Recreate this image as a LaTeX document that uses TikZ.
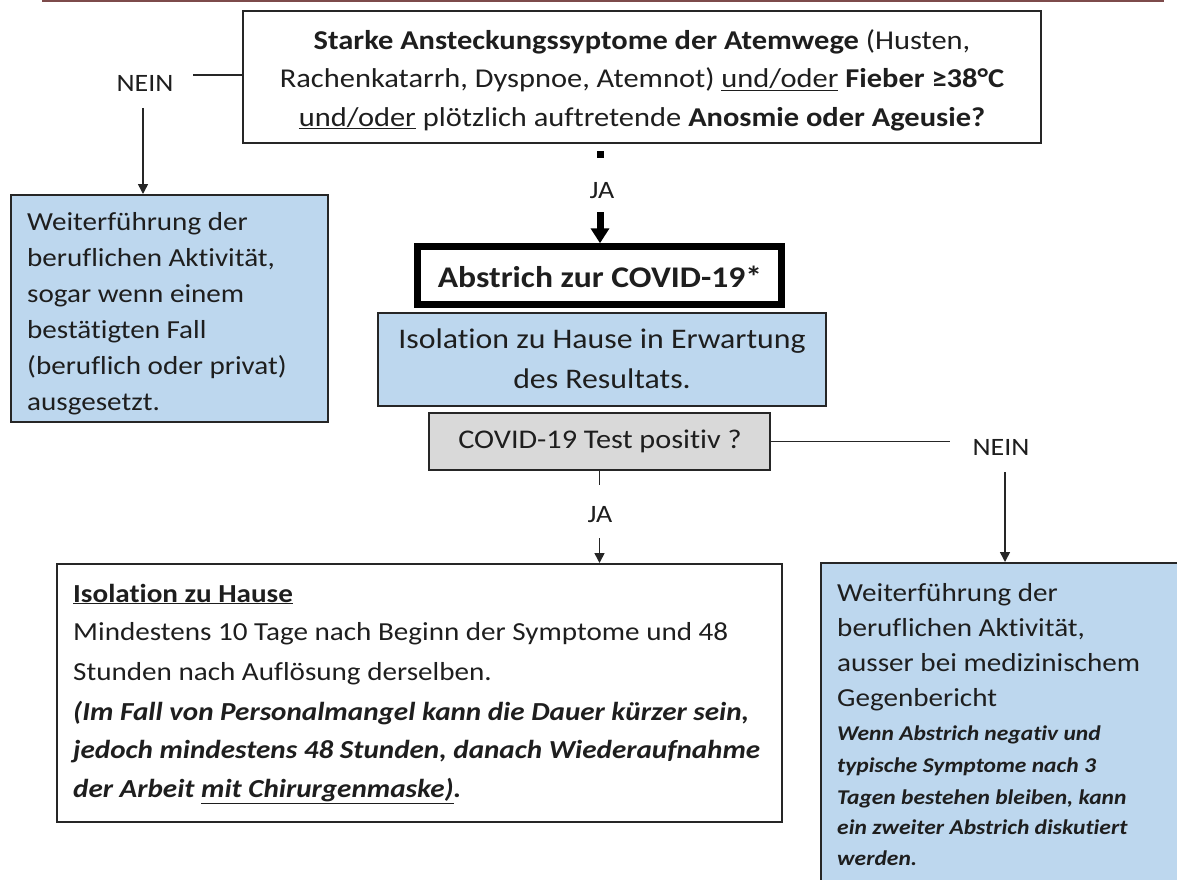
\documentclass[tikz,border=0pt]{standalone}
\usepackage{fontspec}
\setmainfont{Carlito}[FakeStretch=1.12, Ligatures=NoCommon]
\usetikzlibrary{arrows.meta}
\definecolor{boxblue}{HTML}{BDD7EE}
\definecolor{boxgray}{HTML}{D9D9D9}
\definecolor{topline}{RGB}{125,75,75}
\definecolor{txt}{HTML}{1E1E1E}
\begin{document}
\begin{tikzpicture}[x=1pt,y=-1pt,
  box/.style={draw=black!85, line width=2pt, inner sep=0pt},
  t/.style={anchor=base, inner sep=0pt, text=txt, font=\fontsize{26}{39}\selectfont},
  tq/.style={t, font=\fontsize{27.2}{38}\selectfont},
  tl/.style={t, anchor=base west},
  ts/.style={tl, font=\fontsize{21}{31}\selectfont\bfseries\itshape},
  lab/.style={anchor=base, inner sep=0pt, text=txt, font=\fontsize{25}{30}\selectfont},
  conn/.style={line width=1.6pt, black!85},
  arr/.style={conn, -{Triangle[width=10pt,length=10pt]}}
]
\useasboundingbox (0,0) rectangle (1177,880);
\draw[topline, line width=2.5pt] (42,1) -- (1164,1);

% boxes
\node[box, minimum width=798pt, minimum height=132pt] (q) at (642,77) {};
\node[box, fill=boxblue, minimum width=317pt, minimum height=227pt] (left) at (169.5,308.5) {};
\node[box, line width=6.5pt, draw=black, minimum width=364pt, minimum height=58pt] (abs) at (599.5,275.5) {};
\node[box, fill=boxblue, minimum width=448pt, minimum height=93pt] (iso) at (602,359.5) {};
\node[box, fill=boxgray, minimum width=341pt, minimum height=57pt] (test) at (599.5,441.5) {};
\node[box, minimum width=725pt, minimum height=258pt] (res) at (419.5,693) {};
\node[box, fill=boxblue, minimum width=374pt, minimum height=337pt] (right) at (1008,731.5) {};

% top box text
\node[tq] (q1) at (642,50) {\textbf{Starke Ansteckungssyptome der Atemwege} (Husten,};
\node[tq] (q2) at (642,88) {Rachenkatarrh, Dyspnoe, Atemnot) \underline{und/oder} \textbf{Fieber ≥38°C}};
\node[tq] (q3) at (642,126) {\underline{und/oder} plötzlich auftretende \textbf{Anosmie oder Ageusie?}};

% left box text
\node[tl] (l1) at (27,230) {Weiterführung der};
\node[tl] (l2) at (27,266) {beruflichen Aktivität,};
\node[tl] (l3) at (27,302) {sogar wenn einem};
\node[tl] (l4) at (27,338) {bestätigten Fall};
\node[tl] (l5) at (27,374) {(beruflich oder privat)};
\node[tl] (l6) at (27,410) {ausgesetzt.};

% middle column text
\node[t, font=\fontsize{30}{36}\selectfont] (a1) at (600,287) {\textbf{Abstrich zur COVID-19*}};
\node[t, font=\fontsize{28.4}{40}\selectfont] (i1) at (602,348) {Isolation zu Hause in Erwartung};
\node[t, font=\fontsize{28.4}{40}\selectfont] (i2) at (602,388) {des Resultats.};
\node[t, font=\fontsize{27}{36}\selectfont] (g1) at (600,448) {COVID-19 Test positiv ?};

% result box text
\node[tl] (r1) at (73,602) {\textbf{\underline{Isolation zu Hause}}};
\node[tl] (r2) at (73,640) {Mindestens 10 Tage nach Beginn der Symptome und 48};
\node[tl] (r3) at (73,680) {Stunden nach Auflösung derselben.};
\node[tl] (r4) at (73,720) {\bfseries\itshape (Im Fall von Personalmangel kann die Dauer kürzer sein,};
\node[tl] (r5) at (73,758) {\bfseries\itshape jedoch mindestens 48 Stunden, danach Wiederaufnahme};
\node[tl] (r6) at (73,797) {\bfseries\itshape der Arbeit \underline{mit Chirurgenmaske)}.};

% right box text
\node[tl] (w1) at (837,601) {Weiterführung der};
\node[tl] (w2) at (837,636) {beruflichen Aktivität,};
\node[tl] (w3) at (837,671) {ausser bei medizinischem};
\node[tl] (w4) at (837,706) {Gegenbericht};
\node[ts] (w5) at (837,740) {Wenn Abstrich negativ und};
\node[ts] (w6) at (837,772) {typische Symptome nach 3};
\node[ts] (w7) at (837,804) {Tagen bestehen bleiben, kann};
\node[ts] (w8) at (837,834) {ein zweiter Abstrich diskutiert};
\node[ts] (w9) at (837,865) {werden.};

% labels
\node[lab] (nein1) at (145,92) {NEIN};
\node[lab] (ja1) at (602,198) {JA};
\node[lab] (ja2) at (600,522) {JA};
\node[lab] (nein2) at (1001,455) {NEIN};

% connectors
\coordinate (nl) at (193,75);
\draw[conn] (q.west |- nl) -- (nl);
\coordinate (nla) at (143,108);
\draw[arr] (nla) -- (nla |- left.north);

\coordinate (sq) at (600,151);
\draw[line width=7pt] (sq) -- ++(0,7);
\coordinate (jat) at (600,212);
\draw[line width=7pt, -{Triangle[width=18pt,length=15pt]}] (jat) -- (jat |- abs.north);

\coordinate (jb) at (599.5,485);
\draw[conn] (test.south) -- (jb);
\coordinate (jba) at (599.5,538);
\draw[arr] (jba) -- (jba |- res.north);

\coordinate (nr) at (950,441.5);
\draw[conn] (test.east) -- (nr);
\coordinate (nra) at (1005,472);
\draw[arr] (nra) -- (nra |- right.north);
\end{tikzpicture}
\end{document}
